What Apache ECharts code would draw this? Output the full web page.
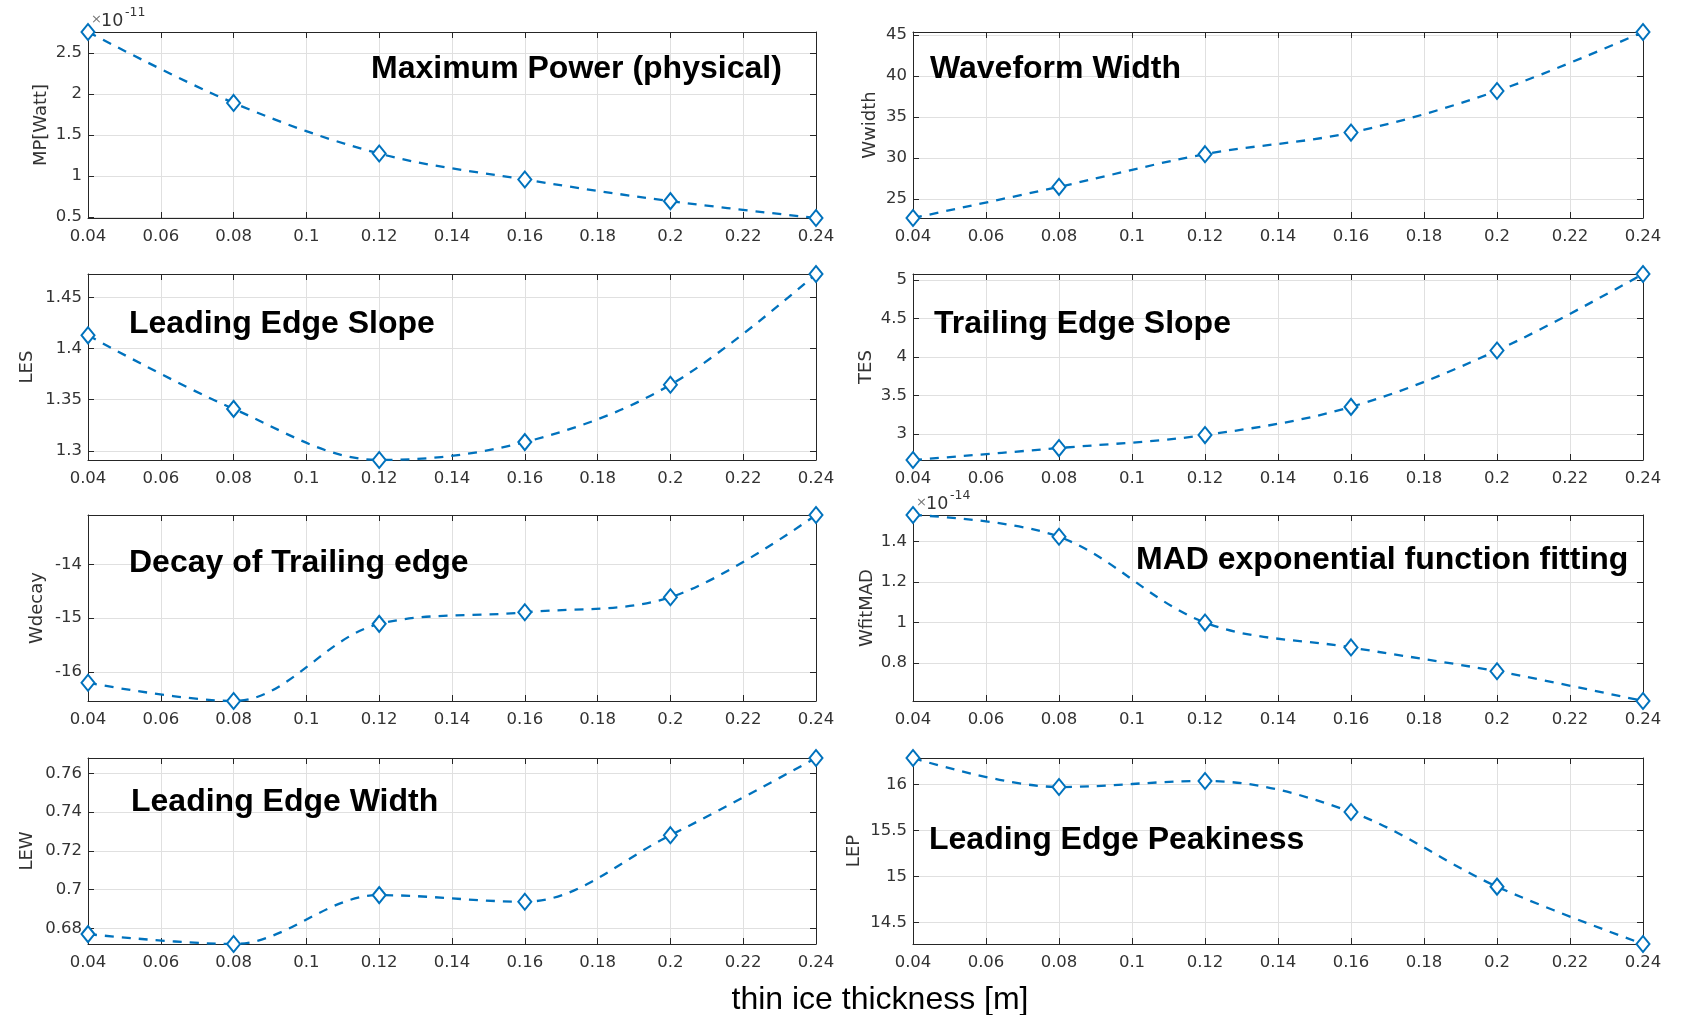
<!DOCTYPE html>
<html>
<head>
<meta charset="utf-8">
<script src="https://cdn.jsdelivr.net/npm/echarts@6/dist/echarts.min.js"></script>
<style>
html,body{margin:0;padding:0;background:#fff;}
#chart{width:1683px;height:1015px;}
</style>
</head>
<body>
<div id="chart"></div>
<script>
// ---------- DATA ----------
const thickness = [0.04, 0.08, 0.12, 0.16, 0.20, 0.24];

const titles = [
  'Maximum Power (physical)', 'Waveform Width',
  'Leading Edge Slope', 'Trailing Edge Slope',
  'Decay of Trailing edge', 'MAD exponential function fitting',
  'Leading Edge Width', 'Leading Edge Peakiness'
];
const yNames = ['MP[Watt]', 'Wwidth', 'LES', 'TES', 'Wdecay', 'WfitMAD', 'LEW', 'LEP'];

const mp      = [2.756, 1.89, 1.272, 0.955, 0.691, 0.485];   // x1e-11
const wwidth  = [22.65, 26.46, 30.45, 33.09, 38.17, 45.38];
const les     = [1.413, 1.341, 1.291, 1.3085, 1.3646, 1.473];
const tes     = [2.663, 2.818, 2.987, 3.353, 4.086, 5.08];
const wdecay  = [-16.2, -16.54, -15.105, -14.89, -14.61, -13.08];
const wfitmad = [1.532, 1.4245, 1.0, 0.877, 0.759, 0.612];   // x1e-14
const lew     = [0.6771, 0.672, 0.6972, 0.6938, 0.7281, 0.7679];
const lep     = [16.285, 15.97, 16.036, 15.70, 14.89, 14.268];

const xTickStep = 0.02;
const yTicks = [
  [0.5, 1, 1.5, 2, 2.5],
  [25, 30, 35, 40, 45],
  [1.3, 1.35, 1.4, 1.45],
  [3, 3.5, 4, 4.5, 5],
  [-16, -15, -14],
  [0.8, 1, 1.2, 1.4],
  [0.68, 0.7, 0.72, 0.74, 0.76],
  [14.5, 15, 15.5, 16]
];
const exponents = ['-11', null, null, null, null, '-14', null, null];
const xLabel = 'thin ice thickness [m]';

const seriesValues = [mp, wwidth, les, tes, wdecay, wfitmad, lew, lep];

// ---------- LAYOUT ----------
const colLeft = [88, 913];
const colWidth = [728, 730];
const rowTop = [32, 274, 515, 758];
const plotH = 186;
const nameGaps = [38, 34, 52, 38, 42, 37, 52, 50];
const titlePos = [[371, 69], [930, 69], [129, 324], [934, 324], [129, 563], [1136, 560], [131, 802], [929, 840]];

const tickFont = 'DejaVu Sans';
const axisColor = '#262626';
const labelColor = '#333';
const blue = '#0072BD';

const grids = [], xAxes = [], yAxes = [], series = [], graphics = [];

seriesValues.forEach((vals, i) => {
  const col = i % 2, row = Math.floor(i / 2);
  const left = colLeft[col], top = rowTop[row];
  const ymin = Math.min(...vals), ymax = Math.max(...vals);
  grids.push({left: left, top: top, width: colWidth[col], height: plotH, containLabel: false});

  const lineStyle = {color: axisColor, width: 1};
  xAxes.push({
    gridIndex: i, type: 'value', position: 'bottom',
    min: thickness[0], max: thickness[thickness.length - 1], interval: xTickStep,
    axisLine: {show: true, onZero: false, lineStyle: lineStyle},
    axisTick: {show: true, inside: true, length: 6, lineStyle: lineStyle},
    axisLabel: {show: true, fontFamily: tickFont, fontSize: 16.5, color: labelColor, margin: 10},
    splitLine: {show: true, lineStyle: {color: '#e0e0e0', width: 1}}
  });
  xAxes.push({
    gridIndex: i, type: 'value', position: 'top',
    min: thickness[0], max: thickness[thickness.length - 1], interval: xTickStep,
    axisLine: {show: true, onZero: false, lineStyle: lineStyle},
    axisTick: {show: true, inside: true, length: 6, lineStyle: lineStyle},
    axisLabel: {show: false}, splitLine: {show: false}
  });
  yAxes.push({
    gridIndex: i, type: 'value', position: 'left',
    min: ymin, max: ymax,
    name: yNames[i], nameLocation: 'middle', nameGap: nameGaps[i],
    nameTextStyle: {fontFamily: tickFont, fontSize: 18, color: labelColor},
    axisLine: {show: true, onZero: false, lineStyle: lineStyle},
    axisTick: {show: true, inside: true, length: 6, lineStyle: lineStyle, customValues: yTicks[i]},
    axisLabel: {show: true, fontFamily: tickFont, fontSize: 16.5, color: labelColor, margin: 6,
                customValues: yTicks[i], showMinLabel: true, showMaxLabel: true},
    splitLine: {show: true, lineStyle: {color: '#e0e0e0', width: 1}}
  });
  yAxes.push({
    gridIndex: i, type: 'value', position: 'right',
    min: ymin, max: ymax,
    axisLine: {show: true, onZero: false, lineStyle: lineStyle},
    axisTick: {show: true, inside: true, length: 6, lineStyle: lineStyle, customValues: yTicks[i]},
    axisLabel: {show: false}, splitLine: {show: false}
  });
  series.push({
    type: 'line', xAxisIndex: 2 * i, yAxisIndex: 2 * i,
    data: thickness.map((x, k) => [x, vals[k]]),
    smooth: 0.35,
    symbol: 'emptyDiamond', symbolSize: [13, 16],
    lineStyle: {color: blue, width: 2.3, type: [9, 8]},
    itemStyle: {color: blue, borderColor: blue, borderWidth: 2},
    z: 5, animation: false
  });

  graphics.push({
    type: 'text', x: titlePos[i][0], y: titlePos[i][1], z: 100,
    style: {text: titles[i], fontFamily: 'Liberation Sans, Arial', fontWeight: 'bold',
            fontSize: 32, fill: '#000', verticalAlign: 'middle', align: 'left'}
  });
  if (exponents[i]) {
    graphics.push({type: 'text', x: left + 3, y: top - 12, z: 100,
      style: {text: '×', fontFamily: tickFont, fontSize: 13, fill: '#777', verticalAlign: 'middle'}});
    graphics.push({type: 'text', x: left + 13, y: top - 11, z: 100,
      style: {text: '10', fontFamily: tickFont, fontSize: 17.5, fill: labelColor, verticalAlign: 'middle'}});
    graphics.push({type: 'text', x: left + 37, y: top - 19, z: 100,
      style: {text: exponents[i], fontFamily: tickFont, fontSize: 12.5, fill: labelColor, verticalAlign: 'middle'}});
  }
});

graphics.push({
  type: 'text', x: 880, y: 1000, z: 100,
  style: {text: xLabel, fontFamily: 'Liberation Sans, Arial', fontSize: 32, fill: '#000',
          align: 'center', verticalAlign: 'middle'}
});

const chart = echarts.init(document.getElementById('chart'), null, {renderer: 'canvas'});
chart.setOption({
  backgroundColor: '#fff',
  animation: false,
  grid: grids,
  xAxis: xAxes,
  yAxis: yAxes,
  series: series,
  graphic: graphics
});
</script>
</body>
</html>
